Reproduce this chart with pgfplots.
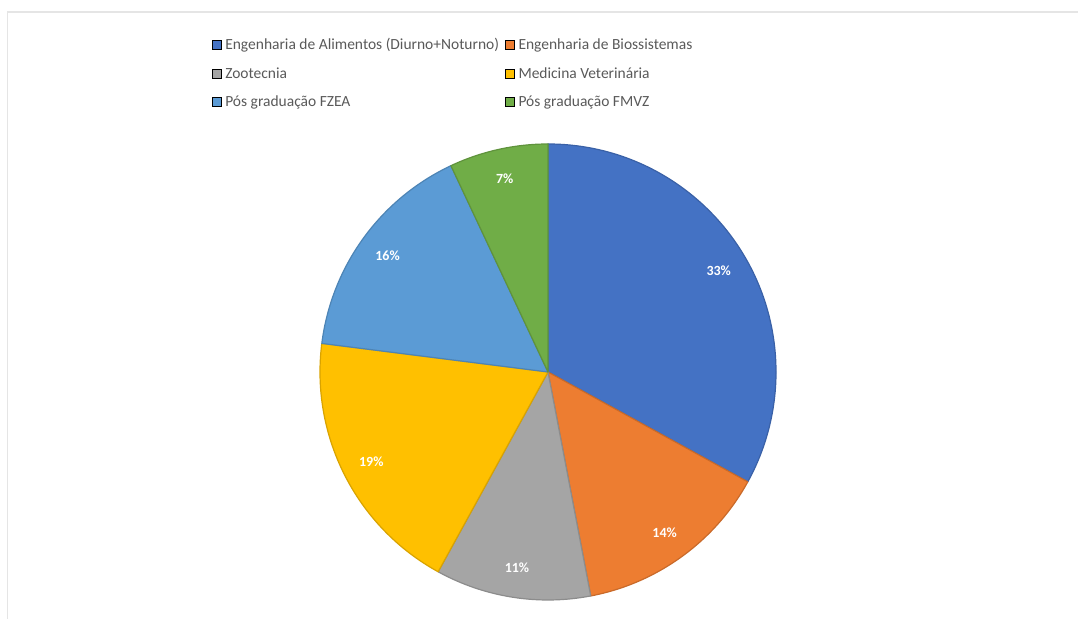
\documentclass[border=0pt]{standalone}
\usepackage{pgfplots}
\usepackage{pgfplotstable}
\pgfplotsset{compat=1.18}
\usepackage{fontspec}
\setmainfont{Carlito}
\definecolor{c0}{HTML}{4472C4}
\definecolor{c1}{HTML}{ED7D31}
\definecolor{c2}{HTML}{A5A5A5}
\definecolor{c3}{HTML}{FFC000}
\definecolor{c4}{HTML}{5B9BD5}
\definecolor{c5}{HTML}{70AD47}
\definecolor{legtext}{HTML}{595959}

\pgfplotstableread{
idx value
0 33
1 14
2 11
3 19
4 16
5 7
}\piedata

% cumulative angles (clockwise from 12 o'clock)
\def\acc{0}
\pgfplotsforeachungrouped \i in {0,...,5}{%
  \pgfplotstablegetelem{\i}{value}\of\piedata
  \let\v\pgfplotsretval
  \pgfmathsetmacro\sa{90-3.6*\acc}%
  \pgfmathsetmacro\ea{90-3.6*(\acc+\v)}%
  \pgfmathsetmacro\ma{90-3.6*(\acc+\v/2)}%
  \expandafter\xdef\csname sA\i\endcsname{\sa}%
  \expandafter\xdef\csname eA\i\endcsname{\ea}%
  \expandafter\xdef\csname mA\i\endcsname{\ma}%
  \pgfmathtruncatemacro\pv{\v}%
  \expandafter\xdef\csname pV\i\endcsname{\pv}%
  \pgfmathsetmacro\acc{\acc+\v}%
  \xdef\acc{\acc}%
}

\begin{document}
\begin{tikzpicture}[x=1bp,y=1bp]
\useasboundingbox (0,0) rectangle (1078,619);
\draw[black!10, line width=1.5bp] (7.5,0) -- (7.5,607) -- (1078,607);
\begin{axis}[
  at={(320bp,19bp)}, anchor=south west,
  scale only axis, width=456bp, height=456bp,
  xmin=-1, xmax=1, ymin=-1, ymax=1,
  hide axis, clip=false,
  legend columns=2,
  legend cell align=left,
  legend style={
    at={(-0.2375,1.236)}, anchor=north west,
    draw=none, fill=none,
    font=\fontsize{15.5bp}{17bp}\selectfont\color{legtext},
    /tikz/every odd column/.append style={column sep=2bp},
    /tikz/every even column/.append style={column sep=4bp},
    row sep=12bp,
    inner sep=0pt,
  },
  legend image code/.code={\fill[#1] (0bp,-4.5bp) rectangle (9bp,4.5bp);},
]
\addlegendimage{fill=c0}
\addlegendentry{Engenharia de Alimentos (Diurno+Noturno)}
\addlegendimage{fill=c1}
\addlegendentry{Engenharia de Biossistemas}
\addlegendimage{fill=c2}
\addlegendentry{Zootecnia}
\addlegendimage{fill=c3}
\addlegendentry{Medicina Veterinária}
\addlegendimage{fill=c4}
\addlegendentry{Pós graduação FZEA}
\addlegendimage{fill=c5}
\addlegendentry{Pós graduação FMVZ}
\pgfplotsinvokeforeach{0,...,5}{
  \filldraw[fill=c#1, draw=c#1!85!black, line width=1.2bp, line join=round]
    (axis cs:0,0) -- (axis cs:{cos(\csname sA#1\endcsname)},{sin(\csname sA#1\endcsname)})
    arc[start angle=\csname sA#1\endcsname, end angle=\csname eA#1\endcsname, radius=228bp] -- cycle;
}
\pgfplotsinvokeforeach{0,...,5}{
  \node[text=white, font=\fontsize{14bp}{16bp}\selectfont\bfseries]
    at (axis cs:{0.87*cos(\csname mA#1\endcsname)},{0.87*sin(\csname mA#1\endcsname)})
    {\csname pV#1\endcsname\%};
}
\end{axis}
\end{tikzpicture}
\end{document}
